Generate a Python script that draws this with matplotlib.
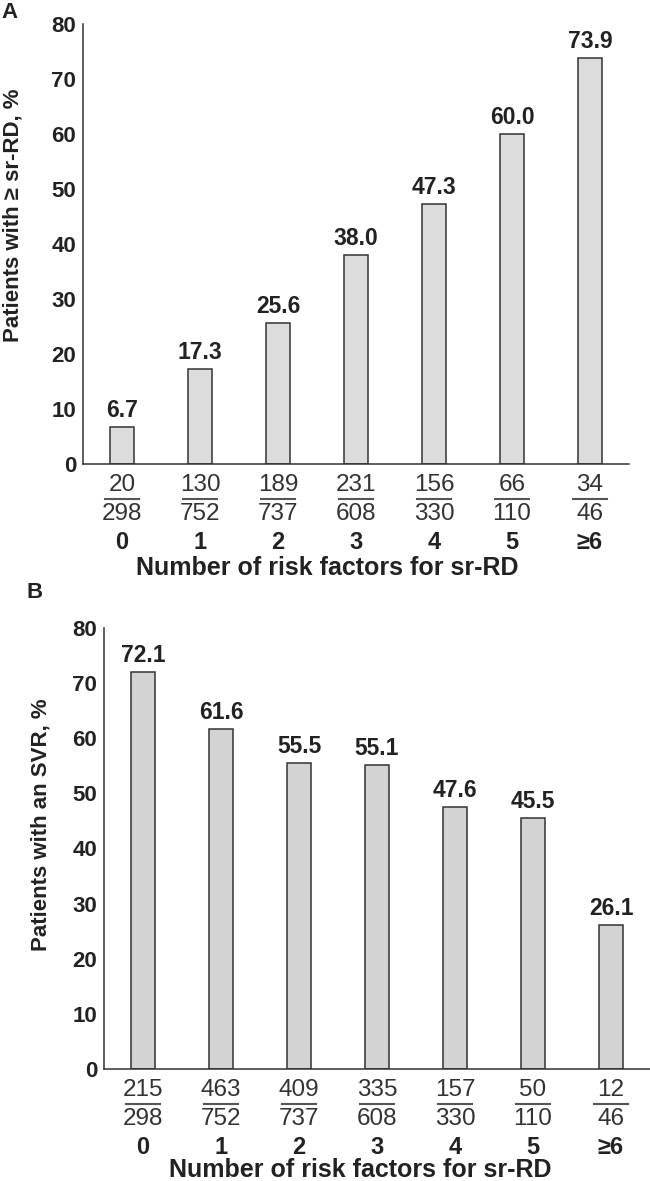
import matplotlib
matplotlib.use('Agg')
import matplotlib.pyplot as plt

plt.rcParams['font.family'] = ['Liberation Sans', 'DejaVu Sans']

# data
categories = ['0', '1', '2', '3', '4', '5', '≥6']
pct_rd = [6.7, 17.3, 25.6, 38.0, 47.3, 60.0, 73.9]
num_rd = [20, 130, 189, 231, 156, 66, 34]
den_rd = [298, 752, 737, 608, 330, 110, 46]
pct_svr = [72.1, 61.6, 55.5, 55.1, 47.6, 45.5, 26.1]
num_svr = [215, 463, 409, 335, 157, 50, 12]
den_svr = [298, 752, 737, 608, 330, 110, 46]
yticks = [0, 10, 20, 30, 40, 50, 60, 70, 80]

W, H = 650, 1181
fig = plt.figure(figsize=(W / 100, H / 100), dpi=100)

edge = '#333333'
txt = '#222222'


def panel(rect, vals, nums, dens, bar_color):
    ax = fig.add_axes(rect)
    x = list(range(len(categories)))
    ax.bar(x, vals, width=0.31, color=bar_color, edgecolor=edge, linewidth=1.1)
    ax.set_xlim(-0.5, 6.5)
    ax.set_ylim(0, 80)
    ax.set_yticks(yticks)
    ax.set_yticklabels([str(t) for t in yticks], fontsize=16, fontweight='bold', color=txt)
    ax.set_xticks([])
    ax.tick_params(axis='y', length=0, pad=5)
    for s in ['top', 'right']:
        ax.spines[s].set_visible(False)
    for s in ['left', 'bottom']:
        ax.spines[s].set_color(edge)
        ax.spines[s].set_linewidth(1.1)

    ax_h = rect[3] * H
    tr = ax.get_xaxis_transform()
    for i, v in enumerate(vals):
        ax.annotate(f'{v:.1f}', (i, v), xytext=(0, 5), textcoords='offset pixels',
                    ha='center', va='bottom', fontsize=16.5, fontweight='bold', color=txt)
        ax.text(i, -21 / ax_h, str(nums[i]), transform=tr, ha='center', va='center',
                fontsize=17.5, color='#333333')
        ax.plot([i - 0.22, i + 0.22], [-35 / ax_h, -35 / ax_h], transform=tr,
                color='#555555', linewidth=1.5, clip_on=False)
        ax.text(i, -50 / ax_h, str(dens[i]), transform=tr, ha='center', va='center',
                fontsize=17.5, color='#333333')
        ax.text(i, -79 / ax_h, categories[i], transform=tr, ha='center', va='center',
                fontsize=17, fontweight='bold', color=txt)
    return ax


axA = panel([83 / W, 1 - 464 / H, 546 / W, 440 / H], pct_rd, num_rd, den_rd, '#dcdcdc')
axB = panel([104 / W, 1 - 1069 / H, 546 / W, 441 / H], pct_svr, num_svr, den_svr, '#d3d3d3')

# axis titles
fig.text(327 / W, 1 - 568 / H, 'Number of risk factors for sr-RD', ha='center', va='center',
         fontsize=18, fontweight='bold', color=txt)
fig.text(360 / W, 1 - 1170 / H, 'Number of risk factors for sr-RD', ha='center', va='center',
         fontsize=18, fontweight='bold', color=txt)
fig.text(13 / W, 1 - 215 / H, 'Patients with ≥ sr-RD, %', rotation=90, ha='center', va='center',
         fontsize=16, fontweight='bold', color=txt)
fig.text(41 / W, 1 - 825 / H, 'Patients with an SVR, %', rotation=90, ha='center', va='center',
         fontsize=16, fontweight='bold', color=txt)

# panel letters
fig.text(9 / W, 1 - 13 / H, 'A', ha='center', va='center', fontsize=16, fontweight='bold', color=txt)
fig.text(35 / W, 1 - 593 / H, 'B', ha='center', va='center', fontsize=16, fontweight='bold', color=txt)

fig.savefig('out.png', dpi=100)
